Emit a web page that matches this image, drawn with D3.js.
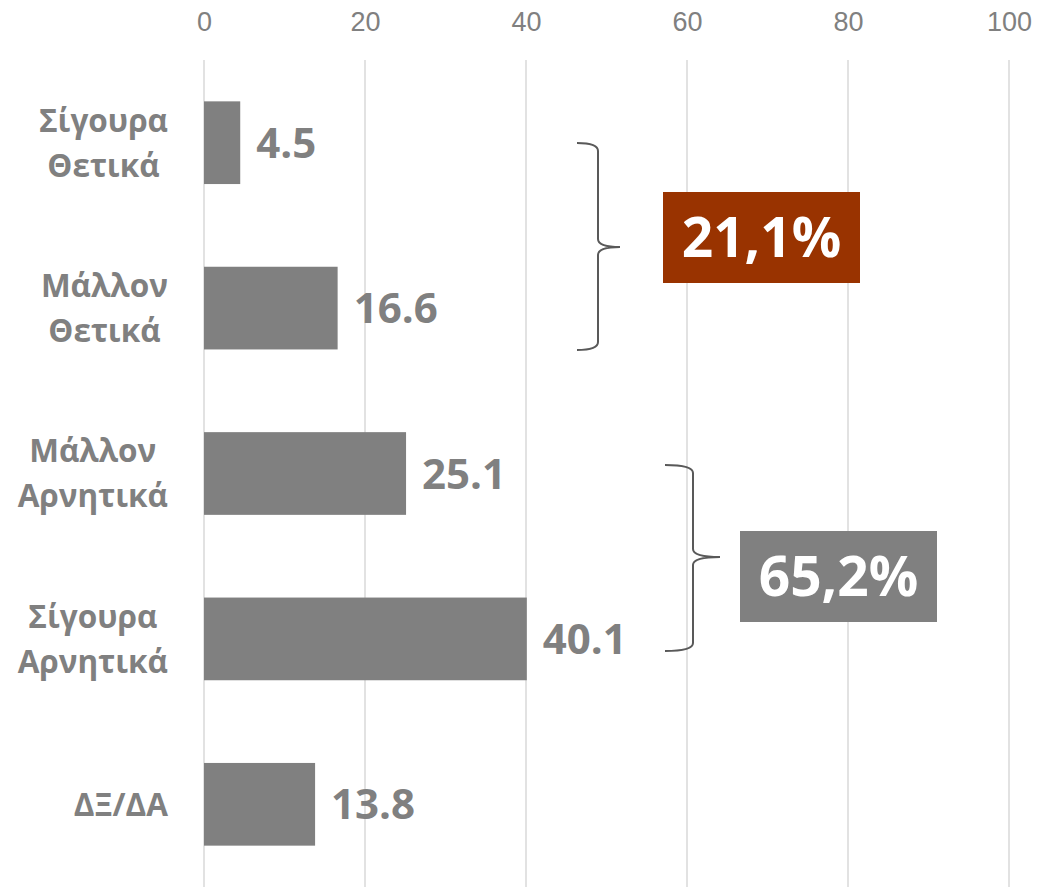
<!DOCTYPE html>
<html>
<head>
<meta charset="utf-8">
<script src="https://cdn.jsdelivr.net/npm/d3@7"></script>
<style>
  body { margin: 0; background: #fff; }
  svg { display: block; }
</style>
</head>
<body>
<svg id="chart" width="1050" height="887"></svg>
<script>
// data
var categories = [["Σίγουρα", "Θετικά"], ["Μάλλον", "Θετικά"], ["Μάλλον", "Αρνητικά"], ["Σίγουρα", "Αρνητικά"], ["ΔΞ/ΔΑ"]]
var values = [4.5, 16.6, 25.1, 40.1, 13.8]
var xTicks = [0, 20, 40, 60, 80, 100]
var groups = [
  {from: 0, to: 1, label: "21,1%", fill: "#993300"},
  {from: 2, to: 3, label: "65,2%", fill: "#808080"}
]

var svg = d3.select('#chart')
var grey = '#808080'
var boldFont = 'Open Sans, sans-serif'

var x = d3.scaleLinear().domain([0, 100]).range([204, 1009])
var y = d3.scaleBand().domain(d3.range(categories.length)).range([60, 887])
          .paddingInner(0.5).paddingOuter(0.25)

// grid
svg.append('g').selectAll('line').data(xTicks).enter().append('line')
   .attr('x1', function(d){return x(d)}).attr('x2', function(d){return x(d)})
   .attr('y1', 60).attr('y2', 887)
   .attr('stroke', '#d9d9d9').attr('stroke-width', 1.5)

// top axis labels
var ax = svg.append('g').attr('transform', 'translate(0,60)')
   .call(d3.axisTop(x).tickValues(xTicks).tickSize(0).tickPadding(29))
ax.select('.domain').remove()
ax.selectAll('text').attr('fill', grey)
  .style('font-family', 'Liberation Sans, Arial, sans-serif')
  .style('font-size', '27px')

// bars
svg.append('g').selectAll('rect').data(values).enter().append('rect')
   .attr('x', x(0))
   .attr('y', function(d,i){return y(i)})
   .attr('width', function(d){return x(d) - x(0)})
   .attr('height', y.bandwidth())
   .attr('fill', grey)

// value labels
svg.append('g').selectAll('text').data(values).enter().append('text')
   .attr('x', function(d){return x(d) + 16})
   .attr('y', function(d,i){return y(i) + y.bandwidth()/2})
   .attr('dy', '0.36em')
   .attr('fill', grey)
   .style('font-family', boldFont).style('font-weight', 'bold').style('font-size', '42px')
   .text(function(d){return d.toFixed(1)})

// category labels, lines centred inside a right-aligned block
var catG = svg.append('g')
categories.forEach(function(lines, i){
    var cy = y(i) + y.bandwidth()/2
    var g = catG.append('g')
    var texts = lines.map(function(s, k){
        return g.append('text')
            .attr('y', cy + (k - (lines.length-1)/2) * 45)
            .attr('dy', '0.36em')
            .attr('text-anchor', 'middle')
            .attr('fill', grey)
            .style('font-family', boldFont).style('font-weight', 'bold').style('font-size', '31.5px')
            .text(s)
    })
    var w = d3.max(texts, function(t){return t.node().getComputedTextLength()})
    texts.forEach(function(t){ t.attr('x', 168 - w/2) })
})

// curly brackets + boxes
function brace(x0, xm, xt, y0, y1, ym) {
    var r = 8
    return 'M' + x0 + ',' + y0 +
        ' Q' + xm + ',' + y0 + ' ' + xm + ',' + (y0 + r) +
        ' L' + xm + ',' + (ym - r) +
        ' Q' + xm + ',' + ym + ' ' + xt + ',' + ym +
        ' Q' + xm + ',' + ym + ' ' + xm + ',' + (ym + r) +
        ' L' + xm + ',' + (y1 - r) +
        ' Q' + xm + ',' + y1 + ' ' + x0 + ',' + y1
}

var bx = [[577, 598, 620, 143, 350, 247, 663, 192], [665, 693, 720, 465, 651, 557, 740, 531]]
groups.forEach(function(gr, i){
    var b = bx[i]
    svg.append('path').attr('d', brace(b[0], b[1], b[2], b[3], b[4], b[5]))
       .attr('fill', 'none').attr('stroke', '#595959').attr('stroke-width', 2)
    svg.append('rect').attr('x', b[6]).attr('y', b[7]).attr('width', 197).attr('height', 91)
       .attr('fill', gr.fill)
    svg.append('text').attr('x', b[6] + 98.5).attr('y', b[7] + 45.5).attr('dy', '0.36em')
       .attr('text-anchor', 'middle').attr('fill', '#fff')
       .style('font-family', boldFont).style('font-weight', 'bold').style('font-size', '55px')
       .text(gr.label)
})
</script>
</body>
</html>
